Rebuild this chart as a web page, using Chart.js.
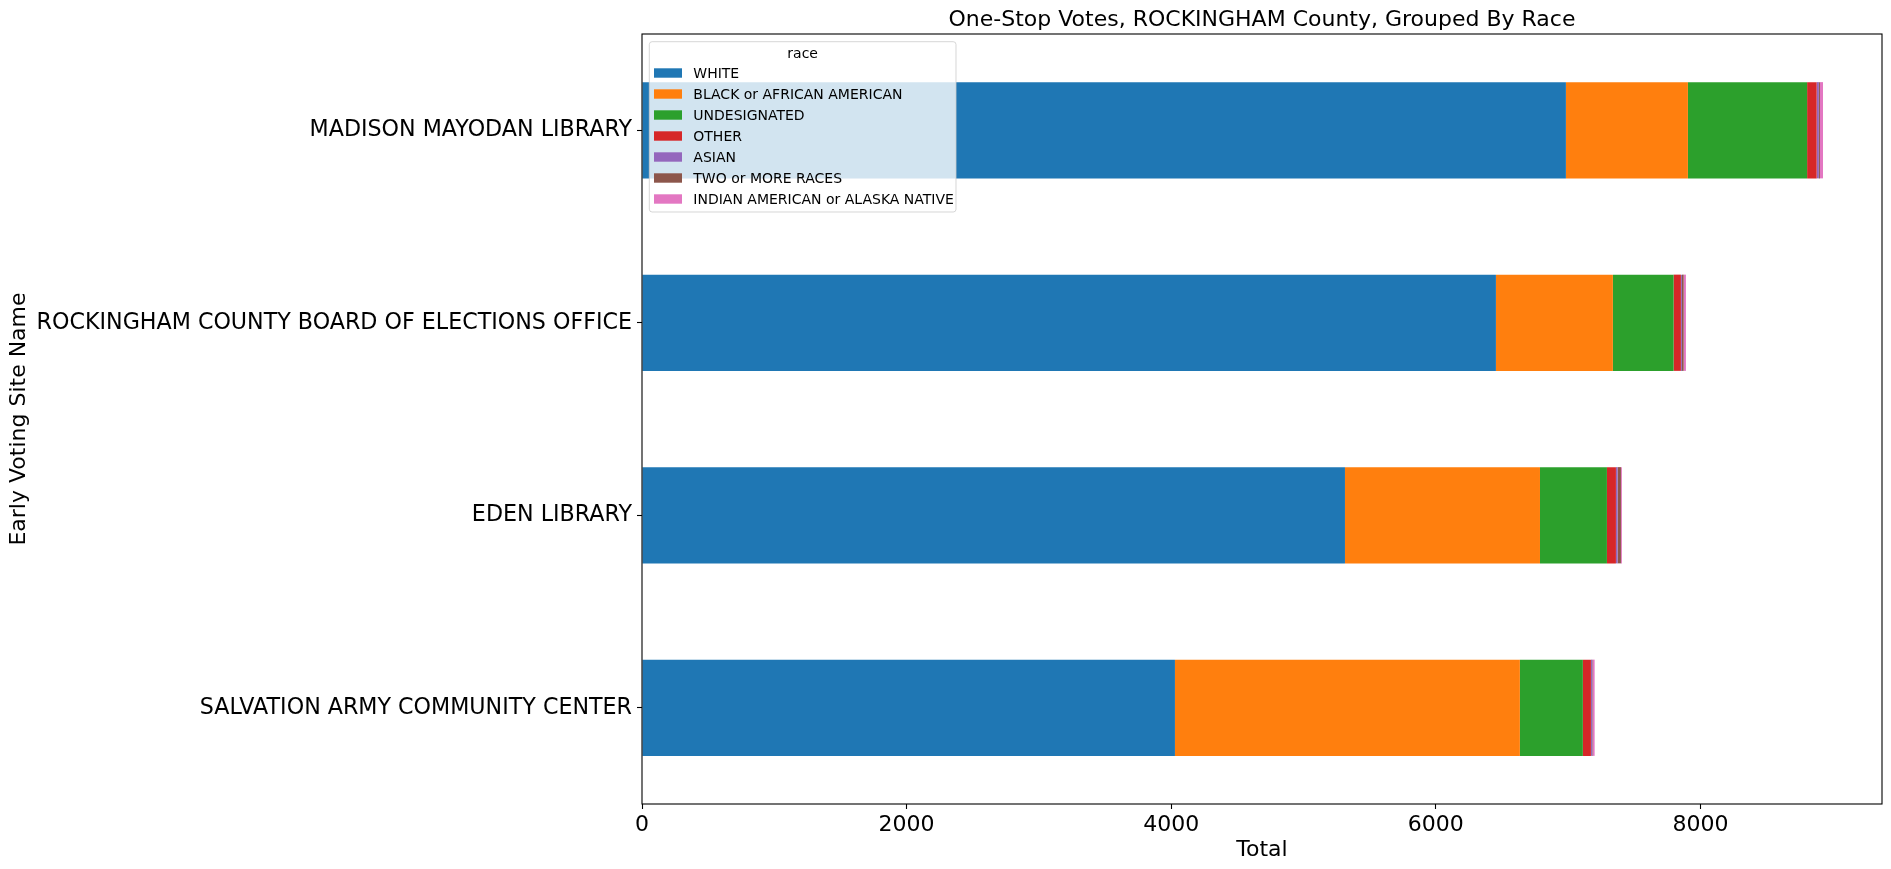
<!DOCTYPE html>
<html>
<head>
<meta charset="utf-8">
<script src="https://cdn.jsdelivr.net/npm/chart.js@4"></script>
<style>
html,body{margin:0;padding:0;background:#fff;}
canvas{display:block;}
</style>
</head>
<body>
<canvas id="c" width="1891" height="869"></canvas>
<script>
const sites = ["MADISON MAYODAN LIBRARY", "ROCKINGHAM COUNTY BOARD OF ELECTIONS OFFICE", "EDEN LIBRARY", "SALVATION ARMY COMMUNITY CENTER"];
const races = ["WHITE", "BLACK or AFRICAN AMERICAN", "UNDESIGNATED", "OTHER", "ASIAN", "TWO or MORE RACES", "INDIAN AMERICAN or ALASKA NATIVE"];
const white        = [6983, 6454, 5313, 4028];
const black        = [922, 884, 1474, 2607];
const undesignated = [901, 459, 506, 476];
const other        = [72, 55, 68, 61];
const asian        = [17, 8, 13, 10];
const twoOrMore    = [8, 13, 25, 4];
const indian       = [23, 17, 7, 14];
const xTicks = [0, 2000, 4000, 6000, 8000];
const colors = ["#1f77b4", "#ff7f0e", "#2ca02c", "#d62728", "#9467bd", "#8c564b", "#e377c2"];
const series = [white, black, undesignated, other, asian, twoOrMore, indian];

const FONT = "'DejaVu Sans', sans-serif";

const framePlugin = {
  id: 'frame',
  afterDatasetsDraw(chart) {
    const {ctx, chartArea: a} = chart;
    ctx.save();
    ctx.strokeStyle = '#000';
    ctx.lineWidth = 1.1;
    ctx.strokeRect(a.left, a.top, a.right - a.left, a.bottom - a.top);
    ctx.restore();
  },
  afterDraw(chart) {
    const {ctx, chartArea: a} = chart;
    ctx.save();
    // title
    ctx.fillStyle = '#000';
    ctx.font = "22px " + FONT;
    ctx.textAlign = 'center';
    ctx.textBaseline = 'alphabetic';
    ctx.fillText("One-Stop Votes, ROCKINGHAM County, Grouped By Race", (a.left + a.right) / 2, a.top - 8.3);
    // legend
    const lx = 649.3, ly = 41.7, lw = 306.7, lh = 170.3, r = 2.8;
    ctx.beginPath();
    ctx.moveTo(lx + r, ly);
    ctx.lineTo(lx + lw - r, ly);
    ctx.arcTo(lx + lw, ly, lx + lw, ly + r, r);
    ctx.lineTo(lx + lw, ly + lh - r);
    ctx.arcTo(lx + lw, ly + lh, lx + lw - r, ly + lh, r);
    ctx.lineTo(lx + r, ly + lh);
    ctx.arcTo(lx, ly + lh, lx, ly + lh - r, r);
    ctx.lineTo(lx, ly + r);
    ctx.arcTo(lx, ly, lx + r, ly, r);
    ctx.closePath();
    ctx.fillStyle = 'rgba(255,255,255,0.8)';
    ctx.fill();
    ctx.strokeStyle = 'rgba(204,204,204,0.8)';
    ctx.lineWidth = 1;
    ctx.stroke();
    ctx.font = "14px " + FONT;
    ctx.fillStyle = '#000';
    ctx.textAlign = 'center';
    ctx.textBaseline = 'middle';
    ctx.fillText("race", lx + lw / 2, 54);
    ctx.textAlign = 'left';
    chart.data.datasets.forEach((ds, i) => {
      const cy = 73 + i * 21;
      ctx.fillStyle = ds.backgroundColor;
      ctx.fillRect(654, cy - 4.7, 28, 9.4);
      ctx.fillStyle = '#000';
      ctx.fillText(ds.label, 693.3, cy + 1.5);
    });
    ctx.restore();
  }
};

new Chart(document.getElementById('c'), {
  type: 'bar',
  data: {
    labels: sites,
    datasets: races.map((r, i) => ({
      label: r,
      data: series[i],
      backgroundColor: colors[i],
      borderWidth: 0,
      barPercentage: 0.5,
      categoryPercentage: 1.0
    }))
  },
  options: {
    indexAxis: 'y',
    responsive: false,
    animation: false,
    devicePixelRatio: 1,
    layout: {padding: {left: 0, right: 9, top: 34, bottom: 0}},
    plugins: {legend: {display: false}, title: {display: false}, tooltip: {enabled: false}},
    scales: {
      x: {
        stacked: true,
        min: 0,
        max: 9372,
        afterBuildTicks(scale) { scale.ticks = xTicks.map(v => ({value: v})); },
        afterFit(scale) { scale.height = 65; },
        border: {display: false},
        grid: {display: true, drawOnChartArea: false, drawTicks: true, tickLength: 5, tickColor: '#000', tickWidth: 1.1},
        ticks: {color: '#000', font: {family: FONT, size: 22}, padding: 3, maxRotation: 0, autoSkip: false,
                callback: (v) => String(v)},
        title: {display: true, text: 'Total', color: '#000', font: {family: FONT, size: 22}, padding: {top: 0, bottom: 6}}
      },
      y: {
        stacked: true,
        afterFit(scale) { scale.width = 642; },
        border: {display: false},
        grid: {display: true, drawOnChartArea: false, drawTicks: true, tickLength: 5, tickColor: '#000', tickWidth: 1.1, offset: false},
        ticks: {color: '#000', font: {family: FONT, size: 22.2}, padding: 5, autoSkip: false},
        title: {display: true, text: 'Early Voting Site Name', color: '#000', font: {family: FONT, size: 22}, padding: {top: 6, bottom: 0}}
      }
    }
  },
  plugins: [framePlugin]
});
</script>
</body>
</html>
